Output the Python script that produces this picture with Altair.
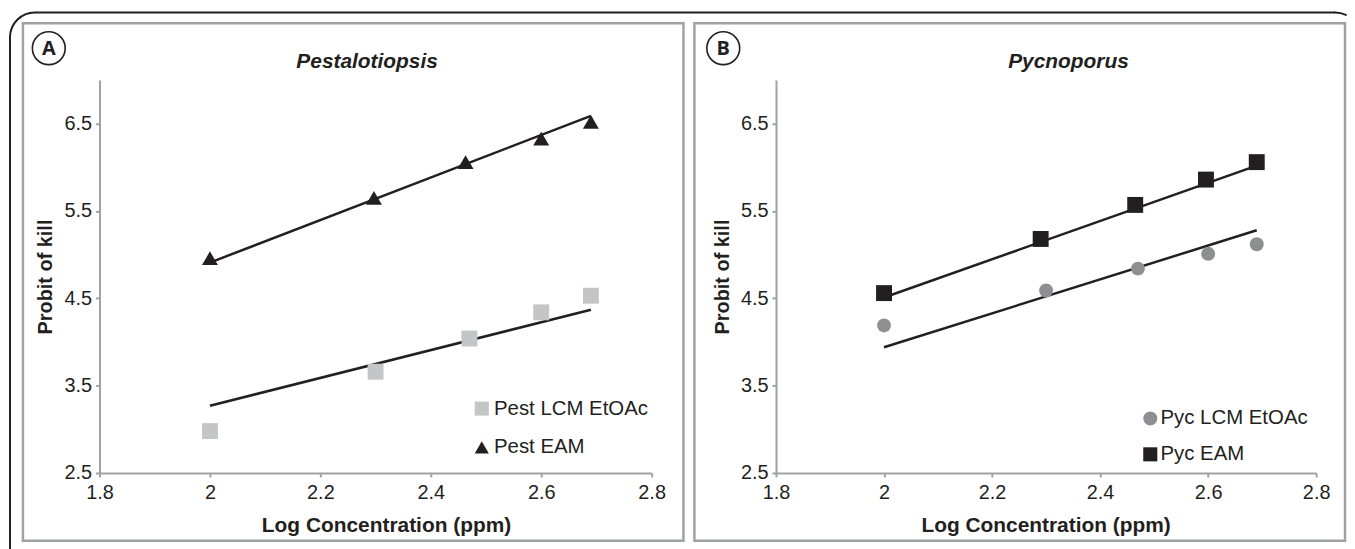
import altair as alt
import pandas as pd

# ---------------- data ----------------
# Panel A: Pestalotiopsis
pest_lcm_x = [2.0, 2.30, 2.47, 2.60, 2.69]
pest_lcm_y = [2.98, 3.66, 4.04, 4.34, 4.53]
pest_eam_x = [2.0, 2.297, 2.463, 2.60, 2.69]
pest_eam_y = [4.96, 5.65, 6.06, 6.33, 6.52]
pest_fit_x = [2.0, 2.69]
pest_lcm_fit = [3.27, 4.37]
pest_eam_fit = [4.91, 6.59]

# Panel B: Pycnoporus
pyc_lcm_x = [2.0, 2.30, 2.47, 2.60, 2.69]
pyc_lcm_y = [4.19, 4.59, 4.84, 5.01, 5.12]
pyc_eam_x = [2.0, 2.29, 2.465, 2.596, 2.69]
pyc_eam_y = [4.56, 5.18, 5.57, 5.86, 6.06]
pyc_fit_x = [2.0, 2.69]
pyc_lcm_fit = [3.94, 5.28]
pyc_eam_fit = [4.51, 6.02]

series_a = ["Pest LCM EtOAc", "Pest EAM"]
series_b = ["Pyc LCM EtOAc", "Pyc EAM"]
x_ticks = [1.8, 2.0, 2.2, 2.4, 2.6, 2.8]
y_ticks = [2.5, 3.5, 4.5, 5.5, 6.5]
titles = ["Pestalotiopsis", "Pycnoporus"]
letters = ["A", "B"]

FONT = "Liberation Sans"
TXT = "#231f20"
GRAY = "#a0a1a3"
LIGHT = "#c4c5c7"
MID = "#8e8f91"


def pts(xs, ys, name):
    return pd.DataFrame({"x": xs, "y": ys, "series": name})


def panel(points, fits, names, colors, shapes, sizes, title, letter,
          width, legend_xy, row_pad, label_off, title_x, border_x, letter_x,
          xtitle_x, extra=None):
    x_enc = alt.X("x:Q", scale=alt.Scale(domain=[1.8, 2.8], nice=False, zero=False),
                  axis=alt.Axis(values=x_ticks, format=".1~f", title="Log Concentration (ppm)",
                                labelFlush=False, labelPadding=6, titlePadding=12,
                                titleFontSize=21, titleX=xtitle_x))
    y_enc = alt.Y("y:Q", scale=alt.Scale(domain=[2.5, 7.0], nice=False, zero=False),
                  axis=alt.Axis(values=y_ticks, format=".1f", title="Probit of kill",
                                labelPadding=4, titlePadding=8))
    color = alt.Color("series:N", scale=alt.Scale(domain=names, range=colors),
                      legend=alt.Legend(title=None, orient="none", legendX=legend_xy[0],
                                        legendY=legend_xy[1], padding=0, rowPadding=row_pad,
                                        labelFontSize=20.5, labelFont=FONT, labelColor=TXT,
                                        labelOffset=label_off, symbolSize=200,
                                        labelLimit=400, symbolStrokeWidth=0))
    shape = alt.Shape("series:N", scale=alt.Scale(domain=names, range=shapes))

    base = alt.Chart(points)
    layers = []
    fit_chart = alt.Chart(fits).mark_line(strokeWidth=2.5, color=TXT).encode(
        x=x_enc, y=y_enc, detail="series:N")
    layers.append(fit_chart)
    for nm, sz in zip(names, sizes):
        layers.append(base.transform_filter(alt.datum.series == nm)
                      .mark_point(filled=True, opacity=1, size=sz)
                      .encode(x=x_enc, y=y_enc, color=color, shape=shape))

    one = alt.Chart(pd.DataFrame({"k": [0]}))
    # decorations: panel frame, circled letter, italic title
    layers.append(one.mark_rect(fillOpacity=0, stroke=GRAY, strokeWidth=2.5).encode(
        x=alt.value(border_x[0]), x2=alt.value(border_x[1]),
        y=alt.value(-57), y2=alt.value(463)))
    layers.append(one.mark_point(shape="circle", size=1090, filled=False,
                                 stroke=TXT, strokeWidth=1.6, opacity=1).encode(
        x=alt.value(letter_x), y=alt.value(-32)))
    layers.append(one.mark_text(text=letter, font="Open Sans", fontSize=20, fontWeight="bold",
                                color=TXT, align="center", baseline="middle").encode(
        x=alt.value(letter_x), y=alt.value(-31)))
    layers.append(one.mark_text(text=title, font=FONT, fontSize=21, fontWeight="bold",
                                fontStyle="italic", color=TXT, align="center",
                                baseline="middle").encode(
        x=alt.value(title_x), y=alt.value(-18)))
    if extra:
        layers.extend(extra(one))
    return alt.layer(*layers).properties(width=width, height=395)


def outer_a(one):
    return [
        one.mark_rule(color=TXT, strokeWidth=2).encode(
            x=alt.value(-65), x2=alt.value(1242), y=alt.value(-68), y2=alt.value(-68)),
        one.mark_rule(color=TXT, strokeWidth=2).encode(
            x=alt.value(-90), x2=alt.value(-90), y=alt.value(-43), y2=alt.value(472)),
        one.mark_arc(theta=4.712389, theta2=6.283185, radius=25, radius2=25,
                     filled=False, stroke=TXT, strokeWidth=2, strokeJoin="round").encode(
            x=alt.value(-65), y=alt.value(-43)),
    ]


def outer_b(one):
    return [
        one.mark_arc(theta=0.0, theta2=0.45, radius=25, radius2=25,
                     filled=False, stroke=TXT, strokeWidth=2, strokeJoin="round").encode(
            x=alt.value(562), y=alt.value(-43)),
    ]


pts_a = pd.concat([pts(pest_lcm_x, pest_lcm_y, series_a[0]),
                   pts(pest_eam_x, pest_eam_y, series_a[1])])
fit_a = pd.concat([pts(pest_fit_x, pest_lcm_fit, series_a[0]),
                   pts(pest_fit_x, pest_eam_fit, series_a[1])])
pts_b = pd.concat([pts(pyc_lcm_x, pyc_lcm_y, series_b[0]),
                   pts(pyc_eam_x, pyc_eam_y, series_b[1])])
fit_b = pd.concat([pts(pyc_fit_x, pyc_lcm_fit, series_b[0]),
                   pts(pyc_fit_x, pyc_eam_fit, series_b[1])])

chart_a = panel(pts_a, fit_a, series_a, [LIGHT, TXT], ["square", "triangle-up"], [256, 256],
                titles[0], letters[0], 555, (374, 320), 18, 2, 269, (-77, 587), -51, 288,
                outer_a)
chart_b = panel(pts_b, fit_b, series_b, [MID, TXT], ["circle", "square"], [196, 256],
                titles[1], letters[1], 543, (366, 330), 15, 0, 294, (-82, 572), -53, 271,
                outer_b)

chart = (alt.hconcat(chart_a, chart_b, spacing=125, bounds="flush")
         .resolve_scale(color="independent", shape="independent",
                        x="independent", y="independent")
         .properties(padding={"left": 1, "top": 2, "right": 0, "bottom": 0},
                     background="white")
         .configure_view(strokeWidth=0)
         .configure_axis(labelFont=FONT, titleFont=FONT, labelFontSize=20, titleFontSize=20,
                         labelColor=TXT, titleColor=TXT, titleFontWeight="bold",
                         domainColor=GRAY, domainWidth=2, tickColor=GRAY, tickWidth=2,
                         tickSize=4, grid=False))

chart.save("out.html", embed_options={"renderer": "svg", "actions": False})
